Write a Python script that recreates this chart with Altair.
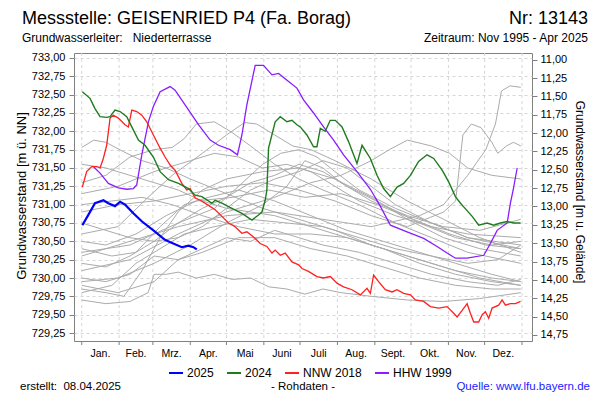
import altair as alt
import pandas as pd

FONT = "Liberation Sans"

# ---------------- axis / calendar definitions ----------------
month_names = ["Jan.", "Feb.", "Mrz.", "Apr.", "Mai", "Juni", "Juli", "Aug.", "Sept.", "Okt.", "Nov.", "Dez."]
month_mids = [15.5, 45, 74.5, 105, 135.5, 166, 196.5, 227.5, 258, 288.5, 319, 349.5]
month_starts = [0, 31, 59, 90, 120, 151, 181, 212, 243, 273, 304, 334, 365]

level_ticks = [729.25, 729.5, 729.75, 730.0, 730.25, 730.5, 730.75, 731.0,
               731.25, 731.5, 731.75, 732.0, 732.25, 732.5, 732.75, 733.0]
depth_ticks = [11.0, 11.25, 11.5, 11.75, 12.0, 12.25, 12.5, 12.75,
               13.0, 13.25, 13.5, 13.75, 14.0, 14.25, 14.5, 14.75]
ground_level = 743.975
level_domain = [729.141, 733.068]
day_domain = [-6.4, 373.3]

# ---------------- highlighted series (day of year, level m ü. NN) ----------------
y2025_days = [0.5, 5.5, 11, 18, 22, 27.6, 31.8, 36, 43, 50, 61, 69, 73, 83, 88.5, 92.6, 95.4]
y2025_levels = [730.72, 730.86, 731.02, 731.06, 731.02, 730.98, 731.04, 731.00, 730.88, 730.77,
                730.63, 730.52, 730.49, 730.42, 730.44, 730.42, 730.39]

y2024_days = [0.5, 6.9, 11, 15.2, 20.7, 23.5, 27.6, 31.8, 37.3, 41.5, 47, 52.5, 59.4, 65, 71.9, 80.2,
              88.5, 94, 99.6, 107.9, 110.6, 116.2, 124.5, 132.8, 141.1, 146.6, 149.4, 152.1, 153.5,
              154.9, 160.4, 164.6, 170.1, 174.3, 178.4, 181.2, 186.7, 192.2, 195, 197.8, 201.9, 206,
              210.2, 215.8, 221.2, 225.4, 228.2, 232.4, 239.3, 244.8, 250.3, 255.9, 261.4, 266.9,
              272.5, 279.3, 286.3, 291.8, 298.8, 304.2, 309.8, 314, 316.7, 323.7, 329.1, 336.1,
              341.6, 347.1, 352.7, 358.2, 363.8]
y2024_levels = [732.54, 732.45, 732.31, 732.20, 732.19, 732.20, 732.29, 732.27, 732.20, 732.06, 731.88,
                731.81, 731.65, 731.45, 731.34, 731.29, 731.22, 731.13, 731.11, 731.02, 731.06, 731.02,
                730.95, 730.88, 730.79, 730.86, 730.90, 731.06, 731.20, 731.77, 732.13, 732.20, 732.13,
                732.15, 732.09, 732.06, 731.95, 731.79, 731.79, 732.04, 732.00, 732.15, 732.15, 732.06,
                731.86, 731.68, 731.56, 731.81, 731.63, 731.40, 731.22, 731.11, 731.24, 731.29, 731.40,
                731.59, 731.68, 731.63, 731.47, 731.31, 731.11, 731.02, 730.97, 730.84, 730.72, 730.75,
                730.72, 730.75, 730.77, 730.75, 730.75]

nnw2018_days = [0.5, 4.1, 8.3, 12.4, 15.2, 17.9, 20.7, 23.5, 26.2, 30.4, 35.9, 38.7, 41.5, 45.6, 49.8,
                53.9, 59.4, 65, 69.1, 73.3, 77.4, 83, 87.1, 89.9, 94, 98.2, 105.1, 110.6, 116.2, 121.7,
                127.2, 132.8, 136.9, 142.4, 148, 153.5, 157.7, 160.4, 164.6, 168.7, 174.3, 179.8, 182.6,
                188, 195, 200.5, 206.1, 211.6, 217.1, 224.1, 231, 236.5, 239.3, 242, 246.1, 251.7, 257.3,
                261.4, 266.9, 272.5, 276.6, 283.5, 289, 295.9, 302.9, 308.4, 311.2, 315.4, 319.5, 322.2,
                325, 329.1, 332, 334.7, 337.4, 340.2, 345.7, 348.5, 351.3, 355.4, 359.6, 363.8]
nnw2018_levels = [731.24, 731.45, 731.52, 731.52, 731.50, 731.63, 731.81, 732.18, 732.22, 732.18, 732.09,
                  732.06, 732.29, 732.27, 732.22, 732.13, 731.95, 731.77, 731.65, 731.54, 731.47, 731.29,
                  731.20, 731.22, 731.09, 731.06, 730.99, 730.93, 730.84, 730.75, 730.70, 730.61, 730.63,
                  730.56, 730.47, 730.43, 730.34, 730.38, 730.31, 730.34, 730.22, 730.18, 730.13, 730.09,
                  730.02, 730.00, 730.02, 729.93, 729.88, 729.84, 729.77, 729.86, 729.79, 730.04, 729.95,
                  729.84, 729.81, 729.84, 729.79, 729.77, 729.70, 729.68, 729.61, 729.59, 729.61, 729.52,
                  729.47, 729.56, 729.65, 729.52, 729.40, 729.40, 729.50, 729.54, 729.45, 729.59, 729.63,
                  729.70, 729.63, 729.65, 729.65, 729.68]

hhw1999_days = [9.6, 15.2, 22.1, 30.4, 37.3, 42.8, 45.6, 49.8, 55.3, 59.4, 65, 73.3, 77.4, 85.7, 96.8,
                106.5, 113.4, 123.1, 129.1, 132.8, 136.9, 143.8, 150.7, 157.7, 163.2, 171.5, 178.4,
                183.9, 192.2, 200.5, 208.8, 217.1, 228.2, 239.3, 247.5, 255.9, 269.7, 283.5, 294.6,
                302.9, 309.8, 319.5, 333.3, 338.8, 344.4, 352.7, 355.4, 357.7, 361]
hhw1999_levels = [731.52, 731.43, 731.29, 731.23, 731.21, 731.22, 731.27, 731.68, 732.13, 732.34, 732.54,
                  732.61, 732.56, 732.36, 732.09, 731.88, 731.81, 731.75, 731.68, 731.95, 732.36, 732.90,
                  732.90, 732.77, 732.79, 732.68, 732.59, 732.43, 732.25, 732.06, 731.88, 731.68, 731.45,
                  731.21, 730.98, 730.72, 730.63, 730.54, 730.43, 730.34, 730.27, 730.27, 730.31, 730.47,
                  730.65, 730.75, 731.02, 731.20, 731.50]

# ---------------- other years (grey), [day, level] ----------------
grey_a = [[0, 731.78], [10, 731.88], [20, 731.85], [35, 731.72], [50, 731.60], [70, 731.50], [90, 731.35],
          [120, 731.15], [150, 730.95], [180, 730.80], [210, 730.65], [240, 730.45], [270, 730.30],
          [300, 730.15], [330, 730.00], [364, 729.90]]
grey_b = [[0, 731.30], [20, 731.40], [40, 731.65], [60, 731.75], [75, 731.78], [85, 731.90], [95, 732.10],
          [110, 732.13], [125, 731.98], [140, 731.80], [160, 731.55], [180, 731.35], [200, 731.20],
          [230, 731.00], [260, 730.75], [290, 730.55], [320, 730.35], [364, 730.20]]
grey_c = [[0, 730.60], [30, 730.70], [55, 731.10], [75, 731.40], [100, 731.70], [120, 731.95], [135, 732.12],
          [145, 732.10], [160, 731.95], [175, 731.80], [190, 731.75], [210, 731.60], [240, 731.35],
          [270, 731.05], [300, 730.80], [330, 730.55], [364, 730.35]]
grey_d = [[0, 730.90], [30, 731.00], [60, 731.05], [90, 731.15], [120, 731.25], [150, 731.30], [180, 731.20],
          [210, 731.05], [240, 730.85], [270, 730.70], [300, 730.90], [310, 731.05], [316, 731.95],
          [323, 732.10], [331, 732.05], [340, 731.85], [345, 731.70], [352, 731.80], [358, 731.85],
          [364, 731.80]]
grey_e = [[0, 730.30], [40, 730.50], [80, 730.70], [120, 730.85], [160, 730.90], [200, 730.80], [240, 730.70],
          [280, 730.85], [300, 731.00], [320, 731.40], [335, 731.75], [343, 732.10], [348, 732.55],
          [355, 732.62], [364, 732.60]]
grey_f = [[0, 730.10], [40, 730.25], [80, 730.60], [120, 730.90], [160, 731.10], [190, 731.30], [215, 731.40],
          [240, 731.60], [255, 731.75], [270, 731.88], [290, 731.80], [305, 731.70], [320, 731.50],
          [340, 731.40], [364, 731.35]]
grey_g = [[0, 729.85], [20, 729.80], [35, 729.75], [50, 730.10], [65, 730.55], [80, 730.90], [100, 731.20],
          [120, 731.35], [150, 731.45], [180, 731.50], [210, 731.35], [240, 731.10], [270, 730.80],
          [300, 730.55], [330, 730.40], [364, 730.30]]
grey_h = [[0, 729.70], [20, 729.65], [40, 729.68], [55, 729.80], [60, 730.05], [70, 730.05], [80, 730.08],
          [95, 730.00], [110, 730.05], [125, 729.98], [140, 730.00], [155, 729.88], [170, 729.85],
          [185, 729.78], [200, 729.85], [215, 729.80], [240, 729.75], [270, 729.70], [300, 729.68],
          [330, 729.72], [364, 729.80]]
grey_i = [[0, 730.40], [25, 730.30], [45, 730.35], [65, 730.70], [85, 731.00], [105, 731.10], [130, 731.20],
          [160, 731.05], [190, 730.85], [220, 730.65], [250, 730.50], [280, 730.35], [310, 730.20],
          [340, 730.05], [364, 729.95]]
grey_j = [[0, 731.00], [25, 731.05], [50, 731.10], [75, 731.00], [100, 730.85], [130, 730.70], [160, 730.60],
          [190, 730.60], [220, 730.55], [250, 730.40], [280, 730.25], [310, 730.10], [340, 730.00],
          [364, 729.95]]
grey_k = [[0, 730.20], [20, 730.15], [40, 730.30], [60, 730.50], [80, 730.75], [100, 730.95], [120, 731.10],
          [140, 731.30], [160, 731.40], [180, 731.55], [200, 731.45], [220, 731.25], [250, 731.00],
          [280, 730.75], [310, 730.55], [340, 730.45], [364, 730.50]]
grey_l = [[0, 729.80], [25, 729.90], [45, 730.20], [65, 730.40], [85, 730.60], [110, 730.70], [140, 730.80],
          [170, 730.75], [200, 730.70], [230, 730.55], [260, 730.40], [290, 730.30], [320, 730.20],
          [345, 730.25], [364, 730.45]]
grey_m = [[0, 731.55], [20, 731.50], [40, 731.40], [60, 731.30], [80, 731.20], [100, 731.05], [120, 730.95],
          [140, 730.90], [160, 730.85], [190, 730.70], [220, 730.55], [250, 730.40], [280, 730.20],
          [310, 730.05], [340, 729.95], [364, 729.90]]
grey_n = [[0, 730.75], [20, 730.65], [40, 730.55], [60, 730.50], [80, 730.55], [100, 730.70], [120, 730.95],
          [140, 731.20], [160, 731.35], [180, 731.45], [200, 731.60], [220, 731.50], [240, 731.25],
          [260, 731.00], [290, 730.75], [320, 730.55], [364, 730.40]]
grey_o = [[0, 730.00], [20, 729.95], [40, 730.05], [60, 730.30], [80, 730.25], [100, 730.40], [120, 730.55],
          [140, 730.50], [160, 730.65], [180, 730.55], [200, 730.45], [230, 730.35], [260, 730.20],
          [290, 730.05], [320, 729.95], [345, 729.90], [364, 729.98]]
grey_p = [[0, 731.15], [30, 731.25], [60, 731.45], [90, 731.60], [110, 731.70], [130, 731.65], [150, 731.50],
          [170, 731.55], [190, 731.45], [210, 731.25], [230, 731.05], [260, 730.85], [290, 730.70],
          [320, 730.60], [364, 730.55]]
grey_q = [[0, 729.95], [30, 730.00], [60, 730.20], [90, 730.45], [120, 730.75], [150, 731.00], [170, 731.25],
          [185, 731.60], [200, 731.50], [215, 731.30], [240, 731.05], [270, 730.85], [300, 730.70],
          [330, 730.65], [364, 730.80]]
grey_r = [[0, 730.50], [20, 730.45], [45, 730.60], [70, 730.85], [95, 731.05], [125, 731.10], [155, 731.20],
          [185, 731.10], [215, 731.15], [245, 731.00], [275, 730.80], [305, 730.60], [335, 730.45],
          [364, 730.40]]
grey_s = [[0, 730.35], [40, 730.45], [80, 730.75], [110, 730.95], [130, 731.25], [150, 731.55], [165, 731.70],
          [180, 731.75], [195, 731.65], [210, 731.45], [230, 731.20], [260, 730.95], [290, 730.75],
          [320, 730.55], [364, 730.45]]
grey_t = [[0, 729.90], [30, 729.80], [60, 729.95], [80, 730.25], [100, 730.35], [130, 730.55], [160, 730.55],
          [190, 730.40], [220, 730.30], [250, 730.15], [280, 730.00], [310, 729.90], [340, 729.85],
          [364, 729.85]]

grey_years = {"a": grey_a, "b": grey_b, "c": grey_c, "d": grey_d, "e": grey_e, "f": grey_f, "g": grey_g,
              "h": grey_h, "i": grey_i, "j": grey_j, "k": grey_k, "l": grey_l, "m": grey_m, "n": grey_n,
              "o": grey_o, "p": grey_p, "q": grey_q, "r": grey_r, "s": grey_s, "t": grey_t}

series_names = ["2025", "2024", "NNW 2018", "HHW 1999"]
series_colors = ["#0000ff", "#1e7b1e", "#ff2020", "#8a1cff"]

# ---------------- data frames ----------------
grey_rows = []
for key, pts in grey_years.items():
    for d, v in pts:
        grey_rows.append({"series": key, "day": d, "level": v})
grey_df = pd.DataFrame(grey_rows)


def series_df(name, days, levels):
    return pd.DataFrame({"series": name, "day": days, "level": levels})


df2025 = series_df("2025", y2025_days, y2025_levels)
df2024 = series_df("2024", y2024_days, y2024_levels)
df2018 = series_df("NNW 2018", nnw2018_days, nnw2018_levels)
df1999 = series_df("HHW 1999", hhw1999_days, hhw1999_levels)

starts_df = pd.DataFrame({"day": month_starts})
mids_df = pd.DataFrame({"day": month_mids, "name": month_names})

W, H = 458, 288

xscale = alt.Scale(domain=day_domain, nice=False, zero=False)
yscale = alt.Scale(domain=level_domain, nice=False, zero=False)

X = alt.X("day:Q", scale=xscale, axis=None)
Y = alt.Y("level:Q", scale=yscale,
          axis=alt.Axis(values=level_ticks, title=None,
                        labelExpr="replace(format(datum.value, '.2f'), '.', ',')",
                        grid=True, gridDash=[3, 3], gridColor="#d6d6d6", gridWidth=1,
                        tickSize=5, tickColor="#808080", domain=False,
                        labelFont=FONT, labelFontSize=11, labelColor="black", labelPadding=4))

color = alt.Color("series:N",
                  scale=alt.Scale(domain=series_names, range=series_colors),
                  legend=alt.Legend(title=None, orient="none", legendX=94, legendY=312,
                                    direction="horizontal", symbolType="stroke", symbolSize=196,
                                    symbolStrokeWidth=2, labelFont=FONT, labelFontSize=12,
                                    labelColor="black", labelOffset=3, columnPadding=9))

vgrid = alt.Chart(starts_df).mark_rule(color="#d6d6d6", strokeDash=[3, 3], strokeWidth=1).encode(x=X)
xticks = alt.Chart(starts_df).mark_rule(color="#808080", strokeWidth=1).encode(
    x=X, y=alt.value(H), y2=alt.value(H + 4))
mlabels = alt.Chart(mids_df).mark_text(font=FONT, fontSize=10.5, color="black", baseline="alphabetic").encode(
    x=X, y=alt.value(H + 16), text="name:N")

grey = alt.Chart(grey_df).mark_line(color="#ababab", strokeWidth=1).encode(x=X, y=Y, detail="series:N")
l1999 = alt.Chart(df1999).mark_line(strokeWidth=1.3).encode(x=X, y=Y, color=color)
l2018 = alt.Chart(df2018).mark_line(strokeWidth=1.3).encode(x=X, y=Y, color=color)
l2024 = alt.Chart(df2024).mark_line(strokeWidth=1.4).encode(x=X, y=Y, color=color)
l2025 = alt.Chart(df2025).mark_line(strokeWidth=2.2).encode(x=X, y=Y, color=color)


def label(text, x, y, size=12, align="left", color="black", angle=0, baseline="alphabetic"):
    return alt.Chart(pd.DataFrame({"t": [text]})).mark_text(
        font=FONT, fontSize=size, align=align, color=color, angle=angle, baseline=baseline
    ).encode(x=alt.value(x), y=alt.value(y), text="t:N")


NB = "\u00a0"
OX, OY = 74, 53  # plot origin on page
texts = [
    label("Messstelle: GEISENRIED P4 (Fa. Borag)", 22 - OX, 24 - OY, size=18),
    label("Nr: 13143", 588 - OX, 24 - OY, size=18, align="right"),
    label("Grundwasserleiter:" + NB * 3 + "Niederterrasse", 22 - OX, 42 - OY, size=12),
    label("Zeitraum: Nov 1995 - Apr 2025", 588 - OX, 42 - OY, size=12, align="right"),
    label("Grundwasserstand [m ü. NN]", 22 - OX, 196 - OY, size=13, align="center", angle=270,
          baseline="middle"),
    label("Grundwasserstand [m u. Gelände]", 580 - OX, 192 - OY, size=12, align="center", angle=90,
          baseline="middle"),
    label("erstellt:" + NB * 2 + "08.04.2025", 20 - OX, 390 - OY, size=11.5),
    label("- Rohdaten -", 303 - OX, 390 - OY, size=11.5, align="center"),
    label("Quelle: www.lfu.bayern.de", 590 - OX, 390 - OY, size=11.5, align="right", color="#2222ff"),
]

inner = alt.layer(vgrid, xticks, grey, l1999, l2018, l2024, l2025, mlabels, *texts)

depth_df = pd.DataFrame({"depth": depth_ticks})
depth_layer = alt.Chart(depth_df).mark_point(opacity=0).encode(
    x=alt.value(0),
    y=alt.Y("depth:Q",
            scale=alt.Scale(domain=[ground_level - level_domain[1], ground_level - level_domain[0]],
                            reverse=True, nice=False, zero=False),
            axis=alt.Axis(orient="right", values=depth_ticks, title=None,
                          labelExpr="replace(format(datum.value, '.2f'), '.', ',')",
                          grid=False, tickSize=5, tickColor="#808080", domain=False,
                          labelFont=FONT, labelFontSize=11, labelColor="black", labelPadding=3)))

chart = alt.layer(inner, depth_layer).resolve_scale(y="independent").properties(
    width=W, height=H,
    padding={"left": OX - 8, "top": OY - 8, "right": 600 - 16 - (OX - 8) - W, "bottom": 400 - 16 - (OY - 8) - H},
    autosize=alt.AutoSizeParams(type="none"),
    background="white",
).configure_view(stroke="#808080", strokeWidth=1)

chart.save("out.html", embed_options={"renderer": "svg", "actions": False})
